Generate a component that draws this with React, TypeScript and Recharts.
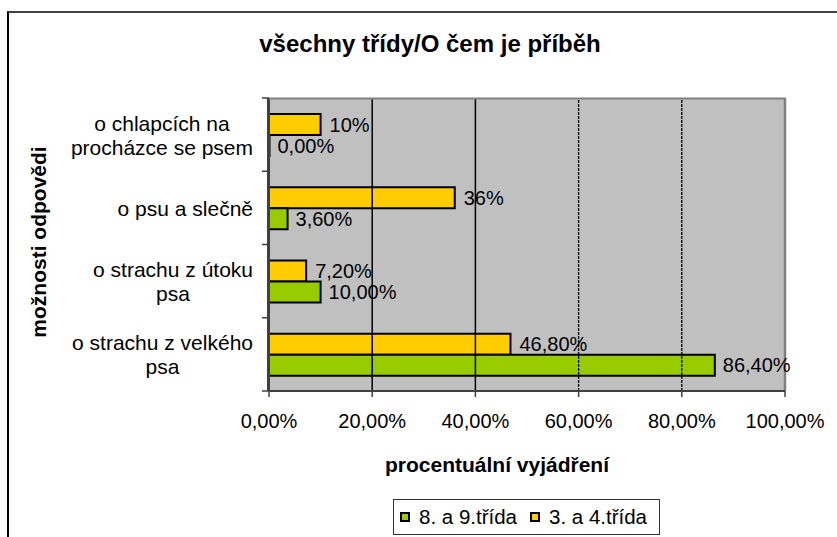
import React from 'react';
import { BarChart, Bar, XAxis, YAxis, ReferenceArea, ReferenceLine, LabelList } from 'recharts';

const categories = [
  'o chlapcích na procházce se psem',
  'o psu a slečně',
  'o strachu z útoku psa',
  'o strachu z velkého psa',
];
const younger = [10, 36, 7.2, 46.8];
const older = [0, 3.6, 10, 86.4];
const youngerLabels = ['10%', '36%', '7,20%', '46,80%'];
const olderLabels = ['0,00%', '3,60%', '10,00%', '86,40%'];
const xTicks = [0, 20, 40, 60, 80, 100];

const FONT = 'Arial, "Liberation Sans", sans-serif';
const YELLOW = '#FFCC00';
const GREEN = '#99CC00';
const CAT_FONT = 21;

const data = categories.map((name, i) => ({
  name,
  young: younger[i],
  old: older[i],
  youngLabel: youngerLabels[i],
  oldLabel: olderLabels[i],
}));

let ctx: CanvasRenderingContext2D | null = null;
function measure(text: string) {
  if (!ctx) ctx = document.createElement('canvas').getContext('2d');
  if (!ctx) return text.length * 10;
  ctx.font = `${CAT_FONT}px ${FONT}`;
  return ctx.measureText(text).width;
}

function wrap(text: string, maxWidth: number) {
  const words = text.split(' ');
  const lines: string[] = [];
  let cur = '';
  for (const w of words) {
    const next = cur ? cur + ' ' + w : w;
    if (cur && measure(next) > maxWidth) {
      lines.push(cur);
      cur = w;
    } else {
      cur = next;
    }
  }
  if (cur) lines.push(cur);
  return lines;
}

function CategoryTick(props: any) {
  const { y, payload } = props;
  const lines = wrap(payload.value, 195);
  const widest = Math.max(...lines.map(measure));
  const right = 253;
  const cx = right - widest / 2;
  const lh = 24;
  return (
    <g>
      {lines.map((l, i) => (
        <text
          key={i}
          x={cx}
          y={y + (i - (lines.length - 1) / 2) * lh + 8}
          textAnchor="middle"
          fontSize={CAT_FONT}
          fontFamily={FONT}
          fill="#000"
        >
          {l}
        </text>
      ))}
    </g>
  );
}

const fmt = (v: number) => v.toFixed(2).replace('.', ',') + '%';

export default function App() {
  return (
    <div style={{ position: 'absolute', left: 0, top: 0, width: 837, height: 537, overflow: 'hidden', background: '#fff' }}>
      <div
        style={{
          position: 'absolute',
          left: 7,
          top: 11,
          width: 900,
          height: 600,
          borderLeft: '2px solid #000',
          borderTop: '2px solid #404040',
        }}
      />
      <div style={{ position: 'absolute', left: 0, top: 0 }}>
        <BarChart
          width={837}
          height={537}
          data={data}
          layout="vertical"
          margin={{ top: 98, right: 52, bottom: 116, left: 0 }}
          barGap={0}
          barSize={21}
        >
          <ReferenceArea x1={0} x2={100} fill="#C0C0C0" fillOpacity={1} stroke="none" ifOverflow="visible" />
          <ReferenceLine x={20} stroke="#000" strokeWidth={1.5} />
          <ReferenceLine x={40} stroke="#000" strokeWidth={1.5} />
          <ReferenceLine x={60} stroke="#000" strokeWidth={1.3} strokeDasharray="3 1" />
          <ReferenceLine x={80} stroke="#000" strokeWidth={1.3} strokeDasharray="3 1" />
          <ReferenceLine x={100} stroke="#808080" strokeWidth={2.5} />
          <XAxis
            type="number"
            domain={[0, 100]}
            ticks={xTicks}
            tickFormatter={fmt}
            height={30}
            tickSize={6}
            tickMargin={17}
            axisLine={{ stroke: '#404040', strokeWidth: 2 }}
            tickLine={{ stroke: '#404040', strokeWidth: 1.5 }}
            tick={{ fill: '#000', fontSize: 20, fontFamily: FONT }}
            interval={0}
          />
          <YAxis
            type="category"
            dataKey="name"
            width={269}
            tickSize={6}
            axisLine={{ stroke: '#404040', strokeWidth: 2 }}
            tickLine={false}
            tick={<CategoryTick />}
            interval={0}
          />
          <Bar dataKey="young" name="3. a 4.třída" fill={YELLOW} stroke="#000" strokeWidth={2} isAnimationActive={false}>
            <LabelList dataKey="youngLabel" position="right" offset={9} fill="#000" fontSize={20} fontFamily={FONT} />
          </Bar>
          <Bar
            dataKey="old"
            name="8. a 9.třída"
            fill={GREEN}
            stroke="#000"
            strokeWidth={2}
            minPointSize={(v: number) => (v === 0 ? 0.5 : 0)}
            isAnimationActive={false}
          >
            <LabelList dataKey="oldLabel" position="right" offset={8} fill="#000" fontSize={20} fontFamily={FONT} />
          </Bar>
        </BarChart>
      </div>
      <svg width={837} height={537} style={{ position: 'absolute', left: 0, top: 0, pointerEvents: 'none' }}>
        <line x1={269} x2={786} y1={98.5} y2={98.5} stroke="#808080" strokeWidth={2} />
        <line x1={268} x2={268} y1={98} y2={391} stroke="#404040" strokeWidth={2} />
        {[98, 171.25, 244.5, 317.75, 391].map((t) => (
          <line key={t} x1={262} x2={269} y1={t} y2={t} stroke="#404040" strokeWidth={1.5} />
        ))}
        <text x={430} y={52} textAnchor="middle" fontSize={24} fontWeight="bold" fontFamily={FONT} fill="#000">
          všechny třídy/O čem je příběh
        </text>
        <text x={497} y={472} textAnchor="middle" fontSize={21} fontWeight="bold" fontFamily={FONT} fill="#000">
          procentuální vyjádření
        </text>
        <text
          x={0}
          y={0}
          transform="translate(46,242) rotate(-90)"
          textAnchor="middle"
          fontSize={21}
          fontWeight="bold"
          fontFamily={FONT}
          fill="#000"
        >
          možnosti odpovědi
        </text>
      </svg>
      <div
        style={{
          position: 'absolute',
          left: 393,
          top: 499,
          width: 265,
          height: 34,
          border: '1px solid #333',
          display: 'flex',
          alignItems: 'center',
          fontFamily: FONT,
          fontSize: 20.5,
          color: '#000',
          boxSizing: 'content-box',
        }}
      >
        {[
          { label: '8. a 9.třída', color: GREEN },
          { label: '3. a 4.třída', color: YELLOW },
        ].map((it, i) => (
          <div key={i} style={{ display: 'flex', alignItems: 'center', marginLeft: i === 0 ? 6 : 13 }}>
            <span
              style={{
                display: 'inline-block',
                width: 6,
                height: 6,
                background: it.color,
                border: '2px solid #000',
                marginRight: 9,
              }}
            />
            <span style={{ whiteSpace: 'nowrap' }}>{it.label}</span>
          </div>
        ))}
      </div>
    </div>
  );
}
